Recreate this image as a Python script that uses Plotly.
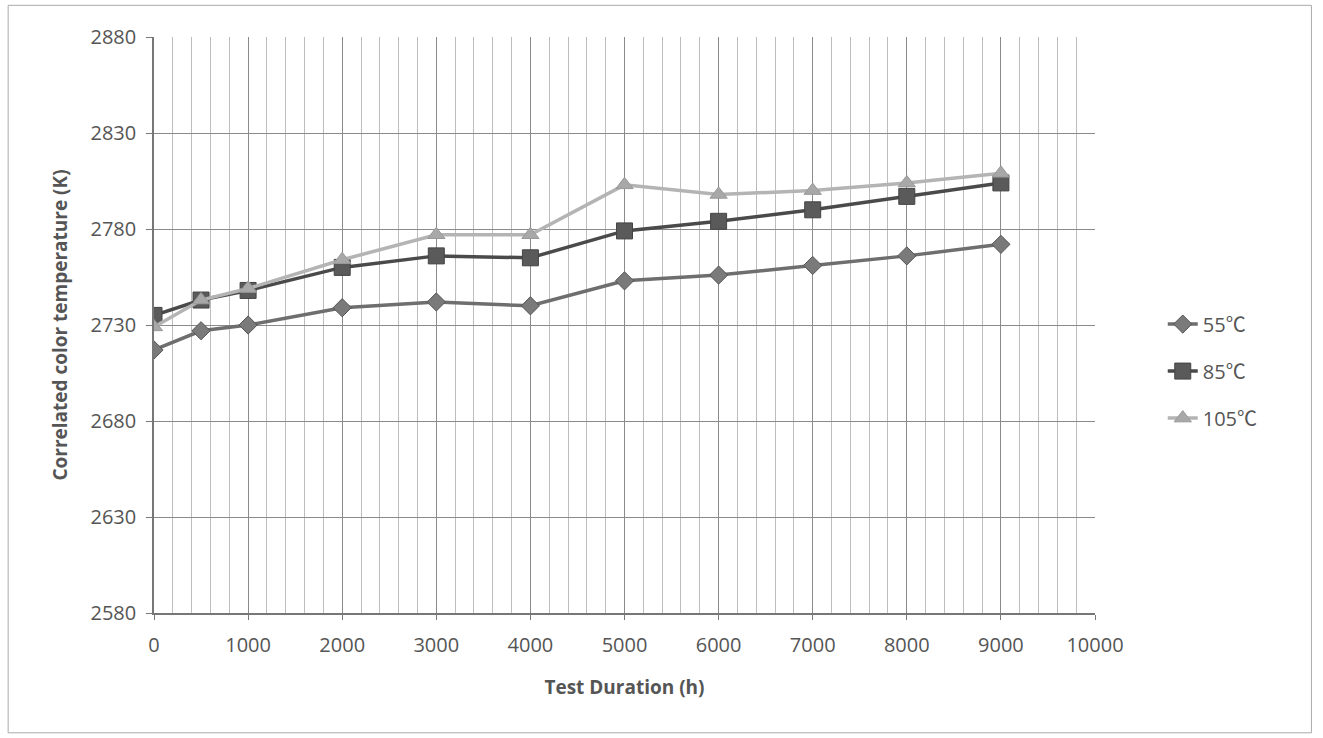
import plotly.graph_objects as go

hours = [0, 500, 1000, 2000, 3000, 4000, 5000, 6000, 7000, 8000, 9000]
cct_55 = [2717, 2727, 2730, 2739, 2742, 2740, 2753, 2756, 2761, 2766, 2772]
cct_85 = [2735, 2743, 2748, 2760, 2766, 2765, 2779, 2784, 2790, 2797, 2804]
cct_105 = [2729, 2743, 2749, 2764, 2777, 2777, 2803, 2798, 2800, 2804, 2809]
series_names = ["55", "85", "105"]

FONT = "Open Sans, Liberation Sans, sans-serif"
DEG = "<span style='font-family:Noto Sans CJK SC'>℃</span>"

fig = go.Figure()
fig.add_trace(go.Scatter(x=hours, y=cct_55, name=series_names[0] + DEG, mode="lines+markers",
                         legendgroup="g1",
                         line=dict(color="#6e6e6e", width=3.5),
                         marker=dict(symbol="diamond", size=14, color="#7a7a7a",
                                     line=dict(color="#555555", width=1))))
fig.add_trace(go.Scatter(x=hours, y=cct_85, name=series_names[1] + DEG, mode="lines+markers",
                         legendgroup="g2",
                         line=dict(color="#4a4a4a", width=3.5),
                         marker=dict(symbol="square", size=16, color="#5a5a5a",
                                     line=dict(color="#444444", width=1))))
fig.add_trace(go.Scatter(x=hours, y=cct_105, name=series_names[2] + DEG, mode="lines+markers",
                         legendgroup="g3",
                         line=dict(color="#b4b4b4", width=3.5),
                         marker=dict(symbol="triangle-up", size=15, color="#a8a8a8",
                                     line=dict(color="#999999", width=1))))

tick_font = dict(family=FONT, size=20, color="#555555")

fig.update_layout(
    width=1323, height=738,
    margin=dict(l=154, r=228, t=37, b=125),
    paper_bgcolor="white", plot_bgcolor="white",
    showlegend=True,
    legend=dict(x=1.072, y=0.42, xanchor="left", yanchor="middle",
                font=dict(family=FONT, size=20, color="#555555"),
                tracegroupgap=18, bgcolor="rgba(0,0,0,0)"),
    xaxis=dict(range=[0, 10000], dtick=1000, tick0=0, tickformat="d",
               showgrid=True, gridcolor="#8a8a8a", gridwidth=1.3,
               minor=dict(dtick=200, showgrid=True, gridcolor="#bdbdbd", gridwidth=1),
               showline=True, linecolor="#777777", linewidth=1.5,
               ticks="outside", ticklen=5, tickcolor="#777777",
               ticklabelstandoff=8,
               tickfont=tick_font, zeroline=False,
               title=dict(text="<b>Test Duration (h)</b>", standoff=24,
                          font=dict(family=FONT, size=19, color="#555555"))),
    yaxis=dict(range=[2580, 2880], dtick=50, tick0=2580,
               showgrid=True, gridcolor="#8a8a8a", gridwidth=1.3,
               showline=True, linecolor="#777777", linewidth=1.5,
               ticks="outside", ticklen=6, tickcolor="#777777",
               ticklabelstandoff=6,
               tickfont=tick_font, zeroline=False,
               title=dict(text="<b>Correlated color temperature (K)</b>", standoff=18,
                          font=dict(family=FONT, size=19, color="#555555"))),
    shapes=[dict(type="rect", xref="paper", yref="paper",
                 x0=-0.155, x1=1.23, y0=-0.208, y1=1.055,
                 line=dict(color="#aaaaaa", width=1), fillcolor="rgba(0,0,0,0)", layer="below")],
)

fig.write_html("out.html")
